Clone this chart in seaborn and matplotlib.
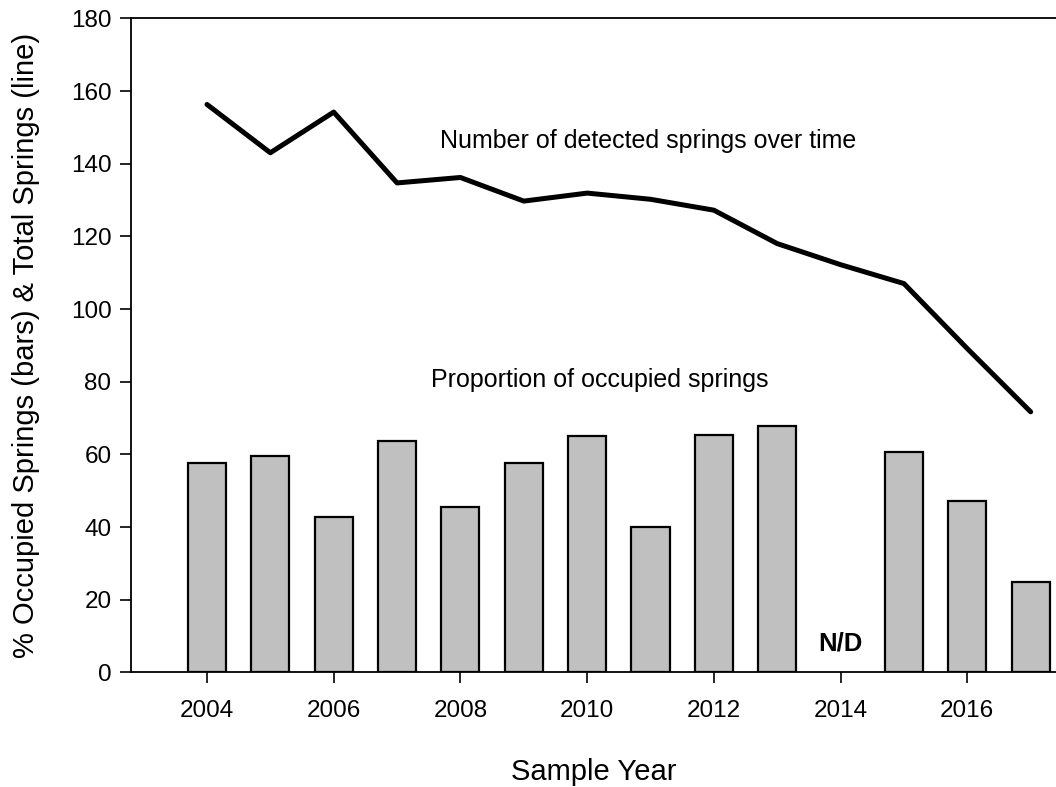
import seaborn as sns
import numpy as np
import pandas as pd
import matplotlib.pyplot as plt

years = [2004, 2005, 2006, 2007, 2008, 2009, 2010, 2011, 2012, 2013, 2014, 2015, 2016, 2017]
pct_occupied = [57.6, 59.5, 42.7, 63.6, 45.5, 57.6, 65.1, 40.0, 65.3, 67.8, np.nan, 60.6, 47.2, 25.0]
total_springs = [156.3, 143.0, 154.2, 134.7, 136.2, 129.7, 131.9, 130.2, 127.2, 118.0, 112.2, 107.0, 89.1, 71.7]

df = pd.DataFrame({"year": years, "pct": pct_occupied, "total": total_springs})

sns.set_style("ticks")
plt.rcParams['font.family'] = ['Liberation Sans', 'DejaVu Sans']
plt.rcParams['text.color'] = 'black'
plt.rcParams['axes.labelcolor'] = 'black'

fig = plt.figure(figsize=(10.56, 7.87), dpi=100)
ax = fig.add_axes([0.124, 0.1457, 0.876, 0.831])

# bars (2014 has no data -> dropped)
sns.barplot(data=df.dropna(), x="year", y="pct", native_scale=True, width=0.6,
            color="#c0c0c0", saturation=1, edgecolor="black", linewidth=1.6, ax=ax)
# line
sns.lineplot(data=df, x="year", y="total", color="black", linewidth=3.6, ax=ax)

ax.set_xlim(2002.8, 2017.4)
ax.set_ylim(0, 180)
ax.set_xticks(range(2004, 2017, 2))
ax.set_yticks(range(0, 181, 20))
ax.tick_params(axis="both", direction="out", length=8, width=1.2, labelsize=17.5, colors="black")
ax.tick_params(axis="x", pad=12)
ax.tick_params(axis="y", pad=6)

for side in ["left", "bottom", "top"]:
    ax.spines[side].set_linewidth(1.3)
    ax.spines[side].set_color("black")
ax.spines["right"].set_visible(False)

ax.set_xlabel("Sample Year", fontsize=21, labelpad=26)
ax.set_ylabel("% Occupied Springs (bars) & Total Springs (line)", fontsize=21, labelpad=22)

ax.text(2007.67, 146.2, "Number of detected springs over time", fontsize=18, va="center", ha="left")
ax.text(2007.53, 80.4, "Proportion of occupied springs", fontsize=18, va="center", ha="left")
ax.text(2014.0, 7.8, "N/D", fontsize=18.5, fontweight="bold", va="center", ha="center")

fig.savefig("out.png", dpi=100)
